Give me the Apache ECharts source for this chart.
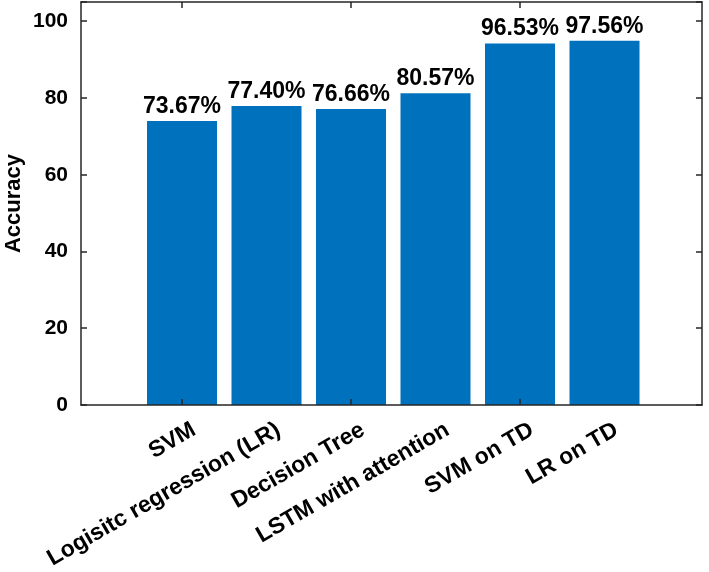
<!DOCTYPE html>
<html><head><meta charset="utf-8">
<script src="https://cdn.jsdelivr.net/npm/echarts@6/dist/echarts.min.js"></script>
<style>html,body{margin:0;padding:0;background:#fff}#c{width:709px;height:572px}</style>
</head><body><div id="c"></div>
<script>
const categories = ['SVM', 'Logisitc regression (LR)', 'Decision Tree', 'LSTM with attention', 'SVM on TD', 'LR on TD'];
const barHeights = [74.0, 77.9, 77.1, 81.2, 94.2, 94.9];
const barLabels = ['73.67%', '77.40%', '76.66%', '80.57%', '96.53%', '97.56%'];
const yTicks = [0, 20, 40, 60, 80, 100];
const yMax = 105;
const yTitle = 'Accuracy';

const FONT = '"Liberation Sans", Arial, Helvetica, sans-serif';
const axisColor = '#262626';

function ls() { return {color: axisColor, width: 1.5}; }
function ticks() { return {show: true, inside: true, length: 6, lineStyle: {color: axisColor, width: 1.5}}; }

const chart = echarts.init(document.getElementById('c'), null, {renderer: 'canvas'});
chart.setOption({
  animation: false,
  backgroundColor: '#fff',
  grid: [
    {left: 81, right: 7, top: 2, bottom: 167},            // frame + y scale
    {left: 139.75, right: 62.25, top: 2, bottom: 167},    // bars
    {left: 151.75, right: 50.25, top: 2, bottom: 167}     // rotated category labels
  ],
  xAxis: [
    {gridIndex: 0, type: 'value', min: 0, max: 1, position: 'bottom', z: 6,
      axisLine: {show: true, onZero: false, lineStyle: ls()}, axisTick: {show: false}, axisLabel: {show: false}, splitLine: {show: false}},
    {gridIndex: 0, type: 'value', min: 0, max: 1, position: 'top', z: 6,
      axisLine: {show: true, onZero: false, lineStyle: ls()}, axisTick: {show: false}, axisLabel: {show: false}, splitLine: {show: false}},
    {gridIndex: 1, type: 'category', data: categories, position: 'bottom', z: 5,
      axisLine: {show: false, onZero: false}, axisTick: Object.assign({alignWithLabel: true}, ticks()), axisLabel: {show: false}},
    {gridIndex: 1, type: 'category', data: categories, position: 'top', z: 5,
      axisLine: {show: false, onZero: false}, axisTick: Object.assign({alignWithLabel: true}, ticks()), axisLabel: {show: false}},
    {gridIndex: 2, type: 'category', data: categories, position: 'bottom',
      axisLine: {show: false, onZero: false}, axisTick: {show: false},
      axisLabel: {interval: 0, rotate: 30, margin: 30, fontSize: 23, fontWeight: 'bold', fontFamily: FONT, color: '#000'}}
  ],
  yAxis: [
    {gridIndex: 0, type: 'value', min: 0, max: yMax, interval: 20, position: 'left', z: 6,
      axisLine: {show: true, onZero: false, lineStyle: ls()}, axisTick: ticks(), splitLine: {show: false},
      axisLabel: {margin: 13, fontSize: 21, fontWeight: 'bold', fontFamily: FONT, color: '#000',
        formatter: v => (yTicks.indexOf(v) >= 0 ? String(v) : '')}},
    {gridIndex: 0, type: 'value', min: 0, max: yMax, interval: 20, position: 'right', z: 6,
      axisLine: {show: true, onZero: false, lineStyle: ls()}, axisTick: ticks(), splitLine: {show: false}, axisLabel: {show: false}},
    {gridIndex: 1, type: 'value', min: 0, max: yMax, show: false},
    {gridIndex: 2, type: 'value', min: 0, max: yMax, show: false}
  ],
  series: [{
    type: 'bar', xAxisIndex: 2, yAxisIndex: 2, data: barHeights, barWidth: 70,
    itemStyle: {color: '#0072BD'},
    label: {show: true, position: 'top', distance: 3, fontSize: 23, fontWeight: 'bold', fontFamily: FONT, color: '#000',
      formatter: p => barLabels[p.dataIndex]}
  }],
  graphic: [{
    type: 'text', x: 14, y: 203.5, rotation: Math.PI / 2,
    style: {text: yTitle, fontSize: 22, fontWeight: 'bold', fontFamily: FONT, fill: '#000', align: 'center', verticalAlign: 'middle'}
  }]
});
</script></body></html>
